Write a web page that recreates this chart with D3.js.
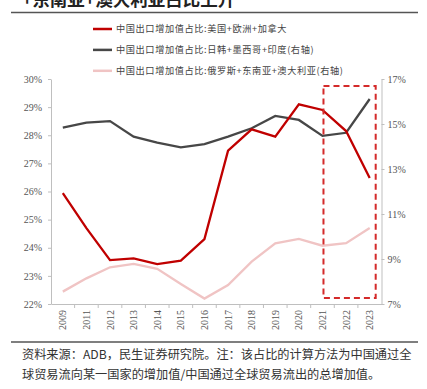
<!DOCTYPE html>
<html><head><meta charset="utf-8">
<script src="https://cdn.jsdelivr.net/npm/d3@7"></script>
<style>body{margin:0;background:#fff}svg{display:block}</style>
</head><body>
<script>
const years = ["2009","2011","2012","2013","2014","2015","2016","2017","2018","2019","2020","2021","2022","2023"];
const usEuCa = [25.94,24.7,23.56,23.62,23.42,23.54,24.31,27.45,28.21,27.95,29.10,28.90,28.15,26.48];
const jkMxIn = [14.84,15.06,15.13,14.44,14.17,13.96,14.11,14.44,14.81,15.36,15.18,14.47,14.61,16.11];
const ruSeaAu = [7.55,8.14,8.63,8.78,8.56,7.89,7.24,7.84,8.88,9.70,9.89,9.59,9.70,10.38];
const leftTicks = [22,23,24,25,26,27,28,29,30];
const rightTicks = [7,9,11,13,15,17];
const legendNames = ["中国出口增加值占比:美国+欧洲+加拿大","中国出口增加值占比:日韩+墨西哥+印度(右轴)","中国出口增加值占比:俄罗斯+东南亚+澳大利亚(右轴)"];
const colors = ["#C00000","#474747","#F0C4C4"];

const W=427,H=389;
const svg=d3.select("body").append("svg").attr("width",W).attr("height",H);
const L=51,R=381.5,T=79,B=304;
const x=d3.scaleBand().domain(years).range([L,R]);
const yL=d3.scaleLinear().domain([22,30]).range([B,T]);
const yR=d3.scaleLinear().domain([7,17]).range([B,T]);

// title (cropped at top, as in the reference)
svg.append("text").attr("x",22).attr("y",5.5).attr("font-family","Noto Sans CJK SC").attr("font-weight","bold")
  .attr("font-size",17.5).attr("fill","#222").text("+东南亚+澳大利亚占比上升");
svg.append("line").attr("x1",11).attr("x2",418).attr("y1",12.5).attr("y2",12.5).attr("stroke","#555").attr("stroke-width",1.5);

// legend
legendNames.forEach((n,i)=>{
  const yy=29+i*20.9;
  svg.append("line").attr("x1",93).attr("x2",112).attr("y1",yy).attr("y2",yy).attr("stroke",colors[i]).attr("stroke-width",2.5);
  svg.append("text").attr("x",116).attr("y",yy+3.3).attr("font-family","Noto Sans CJK SC").attr("font-size",9.2)
    .attr("letter-spacing",0.6).attr("fill","#444").text(n);
});

const axisCol="#BFBFBF", tickTxt="#555";
const ga=svg.append("g").attr("transform",`translate(${L},0)`).call(d3.axisLeft(yL).tickValues(leftTicks).tickFormat(d=>d+"%").tickSize(3).tickSizeOuter(0));
const gr=svg.append("g").attr("transform",`translate(${R},0)`).call(d3.axisRight(yR).tickValues(rightTicks).tickFormat(d=>d+"%").tickSize(3).tickSizeOuter(0));
[ga,gr].forEach(g=>{
  g.select(".domain").attr("stroke",axisCol);
  g.selectAll(".tick line").attr("stroke",axisCol);
  g.selectAll("text").attr("font-family","Liberation Serif").attr("font-size",10).attr("fill",tickTxt);
});
ga.selectAll("text").attr("x",-9);
gr.selectAll("text").attr("x",6);

const gb=svg.append("g").attr("transform",`translate(0,${B})`).call(d3.axisBottom(x).tickSize(0).tickSizeOuter(0));
gb.select(".domain").attr("stroke",axisCol);
gb.selectAll("text").attr("font-family","Liberation Serif").attr("font-size",10).attr("fill",tickTxt)
  .attr("transform","rotate(-90)").attr("text-anchor","end").attr("x",-6).attr("y",0).attr("dy","0.35em");
svg.append("g").selectAll("line").data(years.slice(1)).join("line")
  .attr("x1",d=>x(d)).attr("x2",d=>x(d)).attr("y1",B).attr("y2",B+4).attr("stroke",axisCol);

const cx=d=>x(d)+x.bandwidth()/2;
const lineL=d3.line().x((d,i)=>cx(years[i])).y(d=>yL(d));
const lineR=d3.line().x((d,i)=>cx(years[i])).y(d=>yR(d));
svg.append("path").datum(ruSeaAu).attr("d",lineR).attr("fill","none").attr("stroke",colors[2]).attr("stroke-width",2.3);
svg.append("path").datum(jkMxIn).attr("d",lineR).attr("fill","none").attr("stroke",colors[1]).attr("stroke-width",2.3);
svg.append("path").datum(usEuCa).attr("d",lineL).attr("fill","none").attr("stroke",colors[0]).attr("stroke-width",2.3);

const bx0=cx("2021")+1, bx1=cx("2023")+6;
svg.append("rect").attr("x",bx0).attr("y",T+7).attr("width",bx1-bx0).attr("height",B-6-(T+7))
  .attr("fill","none").attr("stroke","#D42A2A").attr("stroke-width",2).attr("stroke-dasharray","6,4");

svg.append("line").attr("x1",11).attr("x2",418).attr("y1",342).attr("y2",342).attr("stroke","#555").attr("stroke-width",1.5);
const foot=["资料来源：ADB，民生证券研究院。注：该占比的计算方法为中国通过全","球贸易流向某一国家的增加值/中国通过全球贸易流出的总增加值。"];
foot.forEach((t,i)=>svg.append("text").attr("x",22).attr("y",359+i*20).attr("font-family","Noto Sans CJK SC").attr("font-size",12.2).attr("fill","#333").text(t));
</script>
</body></html>
